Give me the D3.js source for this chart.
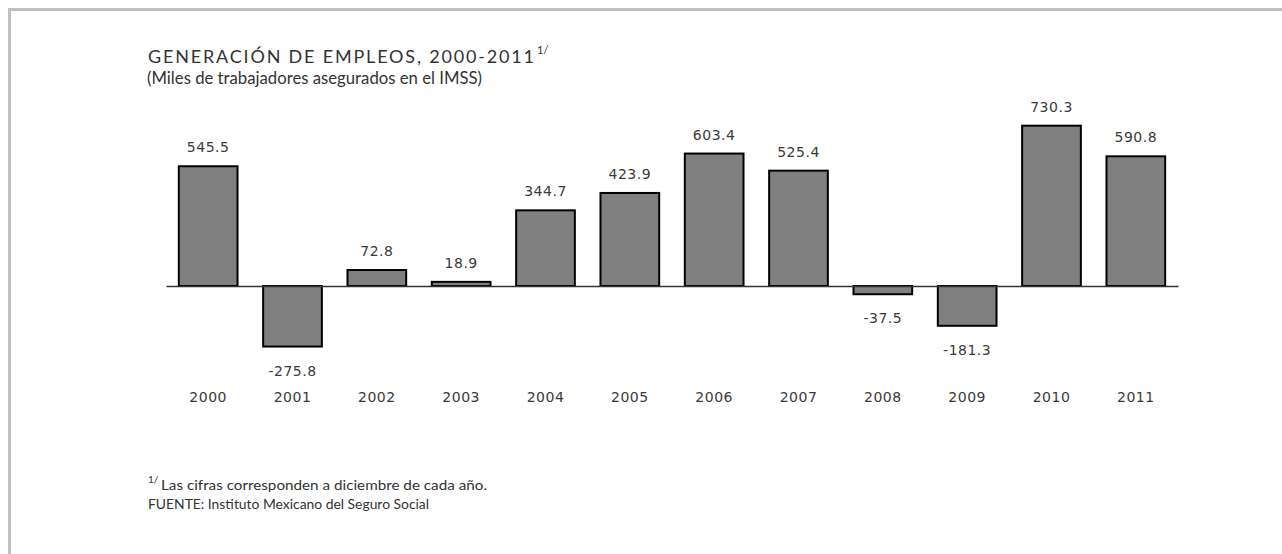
<!DOCTYPE html>
<html>
<head>
<meta charset="utf-8">
<script src="https://cdn.jsdelivr.net/npm/d3@7"></script>
<style>
  body { margin: 0; background: #fff; }
  svg { display: block; }
</style>
</head>
<body>
<div id="chart"></div>
<script>
"use strict";

// == DATA ==
var years = ["2000", "2001", "2002", "2003", "2004", "2005", "2006", "2007", "2008", "2009", "2010", "2011"];
var values = [545.5, -275.8, 72.8, 18.9, 344.7, 423.9, 603.4, 525.4, -37.5, -181.3, 730.3, 590.8];
var title = "GENERACIÓN DE EMPLEOS, 2000-2011";
var subtitle = "(Miles de trabajadores asegurados en el IMSS)";
var note = "Las cifras corresponden a diciembre de cada año.";
var source = "FUENTE: Instituto Mexicano del Seguro Social";

var width = 1282, height = 554;

var svg = d3.select("#chart")
            .append("svg")
            .attr("width", width)
            .attr("height", height);

// frame (top + left gray border)
svg.append("rect")
   .attr("x", 8).attr("y", 8)
   .attr("width", width - 8).attr("height", 3)
   .attr("fill", "#c0c0c0");
svg.append("rect")
   .attr("x", 8).attr("y", 8)
   .attr("width", 3).attr("height", height - 8)
   .attr("fill", "#c0c0c0");

var titleFont = "Lato, 'Open Sans', sans-serif";
var numFont = "'DejaVu Sans', sans-serif";

// titles
svg.append("text")
   .attr("x", 148).attr("y", 63)
   .attr("font-family", titleFont)
   .attr("font-size", "18px")
   .attr("fill", "#333")
   .attr("textLength", 386)
   .attr("lengthAdjust", "spacing")
   .text(title);
svg.append("text")
   .attr("x", 537).attr("y", 54)
   .attr("font-family", titleFont)
   .attr("font-size", "11px")
   .attr("fill", "#333")
   .text("1/");

svg.append("text")
   .attr("x", 147).attr("y", 84)
   .attr("font-family", titleFont)
   .attr("font-size", "17px")
   .attr("fill", "#333")
   .attr("textLength", 335)
   .attr("lengthAdjust", "spacingAndGlyphs")
   .text(subtitle);

// == SCALES ==
var x = d3.scaleBand()
          .domain(years)
          .range([166, 1178])
          .paddingInner(0.304)
          .paddingOuter(0.152);

var y = d3.scaleLinear()
          .domain([-300, 750])
          .range([286 + 300 * 0.2195, 286 - 750 * 0.2195]);

var data = years.map(function (d, i) { return { year: d, value: values[i] }; });

// bars
svg.selectAll("rect.bar")
   .data(data)
   .enter()
   .append("rect")
   .attr("class", "bar")
   .attr("x", function (d) { return x(d.year); })
   .attr("width", x.bandwidth())
   .attr("y", function (d) { return y(Math.max(0, d.value)); })
   .attr("height", function (d) { return Math.abs(y(d.value) - y(0)); })
   .attr("fill", "#808080")
   .attr("stroke", "#000")
   .attr("stroke-width", 2);

// zero axis line
var axis = d3.axisBottom(x).tickSize(0).tickFormat("");
svg.append("g")
   .attr("transform", "translate(0," + y(0) + ")")
   .call(axis)
   .call(function (g) {
     g.select(".domain").attr("stroke", "#333").attr("stroke-width", 1.6);
   });

// value labels
var fmt = function (v) { return v.toFixed(1); };
svg.selectAll("text.val")
   .data(data)
   .enter()
   .append("text")
   .attr("class", "val")
   .attr("x", function (d) { return x(d.year) + x.bandwidth() / 2; })
   .attr("y", function (d) {
     return d.value >= 0 ? y(d.value) - 14 : y(d.value) + 29;
   })
   .attr("text-anchor", "middle")
   .attr("font-family", numFont)
   .attr("font-size", "14px")
   .attr("letter-spacing", "0.5px")
   .attr("fill", "#3a3a3a")
   .text(function (d) { return fmt(d.value); });

// year labels
svg.selectAll("text.year")
   .data(data)
   .enter()
   .append("text")
   .attr("class", "year")
   .attr("x", function (d) { return x(d.year) + x.bandwidth() / 2; })
   .attr("y", 402)
   .attr("text-anchor", "middle")
   .attr("font-family", numFont)
   .attr("font-size", "14px")
   .attr("letter-spacing", "0.5px")
   .attr("fill", "#3a3a3a")
   .text(function (d) { return d.year; });

// footnotes
svg.append("text")
   .attr("x", 148).attr("y", 483)
   .attr("font-family", titleFont)
   .attr("font-size", "10px")
   .attr("fill", "#333")
   .text("1/");
svg.append("text")
   .attr("x", 161).attr("y", 490)
   .attr("font-family", titleFont)
   .attr("font-size", "14px")
   .attr("fill", "#333")
   .attr("textLength", 326)
   .attr("lengthAdjust", "spacingAndGlyphs")
   .text(note);
svg.append("text")
   .attr("x", 148).attr("y", 509)
   .attr("font-family", titleFont)
   .attr("font-size", "14px")
   .attr("fill", "#333")
   .attr("textLength", 281)
   .attr("lengthAdjust", "spacingAndGlyphs")
   .text(source);
</script>
</body>
</html>
